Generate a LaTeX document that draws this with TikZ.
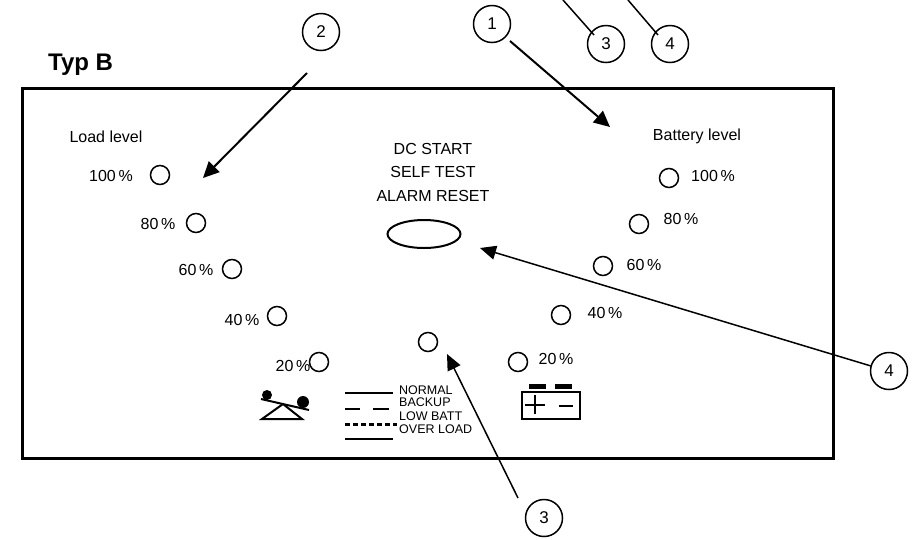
\documentclass[tikz,border=0pt]{standalone}
\usepackage{fontspec}
\setmainfont{Liberation Sans}
\usetikzlibrary{arrows.meta,shapes.geometric}
\tikzset{
  lamp/.style={draw,circle,line width=1.5pt,minimum width=19pt,inner sep=0pt},
  num/.style={draw,circle,line width=1.5pt,minimum width=37pt,inner sep=0pt,font=\fontsize{17}{17}\selectfont},
  lbl/.style={inner sep=0pt,font=\fontsize{16}{16}\selectfont},
  small/.style={inner sep=0pt,anchor=west,font=\fontsize{12.5}{12.5}\selectfont},
  arr/.style={line width=2pt,-{Triangle[length=16pt,width=15pt]}},
  thin arr/.style={line width=1.5pt,-{Triangle[length=16pt,width=14pt]}},
  bar/.style={line width=2.8pt}
}
\begin{document}
\begin{tikzpicture}[x=1pt,y=-1pt]
\useasboundingbox (0,0) rectangle (913,539);
\draw[line width=3pt] (22,88) rectangle (833,458);
\node[inner sep=0pt,anchor=west,font=\bfseries\fontsize{24}{24}\selectfont] (typ) at (48,65) {Typ B};
% numbered circles
\node[num] (n2) at (321,32) {2};
\node[num] (n1) at (492,24) {1};
\node[num] (n3t) at (606,44) {3};
\node[num] (n4t) at (670,44) {4};
\node[num] (n4) at (889,371) {4};
\node[num] (n3) at (544,518) {3};
% targets
\coordinate (t2s) at (307,73);
\coordinate (t2e) at (203,178);
\coordinate (t1s) at (510,41);
\coordinate (t1e) at (610,127);
\coordinate (t3top) at (563,0);
\coordinate (t4top) at (628,0);
% labels
\node[lbl] (ll) at (106,137) {Load level};
\node[lbl] (bl) at (697,136) {Battery level};
\node[lbl] (dc) at (433,149) {DC START};
\node[lbl] (st) at (433,172) {SELF TEST};
\node[lbl] (ar) at (433,196) {ALARM RESET};
% load lamps
\node[lbl] (l100) at (111,176) {100\,\%};
\node[lamp] (c100) at (160,175) {};
\node[lbl] (l80) at (158,224) {80\,\%};
\node[lamp] (c80) at (196,223) {};
\node[lbl] (l60) at (196,270) {60\,\%};
\node[lamp] (c60) at (232,269) {};
\node[lbl] (l40) at (242,320) {40\,\%};
\node[lamp] (c40) at (277,316) {};
\node[lbl] (l20) at (293,366) {20\,\%};
\node[lamp] (c20) at (319,362) {};
% battery lamps
\node[lamp] (b100) at (669,178) {};
\node[lbl] (r100) at (713,176) {100\,\%};
\node[lamp] (b80) at (639,224) {};
\node[lbl] (r80) at (681,219) {80\,\%};
\node[lamp] (b60) at (603,266) {};
\node[lbl] (r60) at (644,265) {60\,\%};
\node[lamp] (b40) at (561,315) {};
\node[lbl] (r40) at (605,313) {40\,\%};
\node[lamp] (b20) at (518,362) {};
\node[lbl] (r20) at (556,359) {20\,\%};
\node[lamp] (mid) at (428,342) {};
% button
\node[draw,ellipse,line width=2pt,minimum width=73pt,minimum height=28pt,inner sep=0pt] (btn) at (424,234) {};
% arrows
\draw[arr] (t2s) -- (t2e);
\draw[arr] (t1s) -- (t1e);
\coordinate (a3s) at (518,498);
\coordinate (a3e) at (447,354);
\draw[thin arr] (a3s) -- (a3e);
\coordinate (a4s) at (871,366);
\coordinate (a4e) at (480,248);
\draw[thin arr] (a4s) -- (a4e);
\coordinate (a3ts) at (594,35);
\coordinate (a4ts) at (658,35);
\draw[line width=1.5pt] (t3top) -- (a3ts);
\draw[line width=1.5pt] (t4top) -- (a4ts);
% legend
\draw[bar] (345,393) -- (393,393);
\draw[bar] (345,409) -- (360,409) (373,409) -- (389,409);
\draw[line width=3pt,dash pattern=on 4.5pt off 3.5pt] (345,424) -- (397,424);
\draw[bar] (345,439) -- (393,439);
\node[small] (t1) at (399,390) {NORMAL};
\node[small] (t2) at (399,402) {BACKUP};
\node[small] (t3) at (399,416) {LOW BATT};
\node[small] (t4) at (399,429) {OVER LOAD};
% seesaw
\draw[line width=2pt] (261,399) -- (309,410);
\fill (267,395) circle (5pt);
\fill (303,402) circle (6pt);
\draw[line width=2pt,line join=miter] (262,419) -- (283,404) -- (302,419) -- cycle;
% battery
\draw[line width=2pt] (522,392) rectangle (580,419);
\fill (529,384) rectangle (546,389);
\fill (555,384) rectangle (572,389);
\draw[line width=2pt] (535,395) -- (535,414) (525,404.5) -- (545,404.5) (559,406) -- (573,406);
\end{tikzpicture}
\end{document}
